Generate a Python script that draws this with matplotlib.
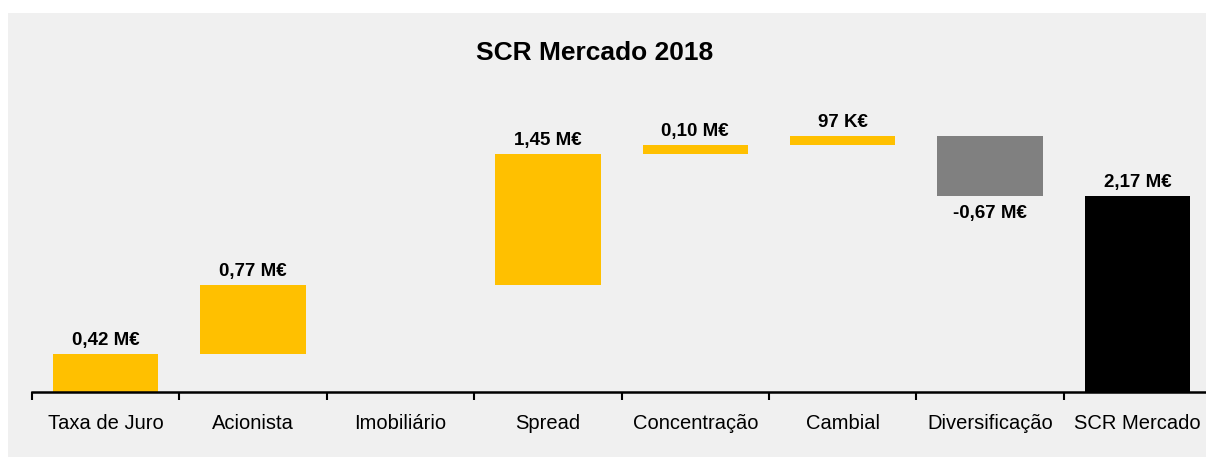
import numpy as np
from matplotlib import pyplot as plt
from matplotlib.patches import Rectangle

categories = ['Taxa de Juro', 'Acionista', 'Imobiliário', 'Spread',
              'Concentração', 'Cambial', 'Diversificação', 'SCR Mercado']
values = [0.42, 0.77, 0.0, 1.45, 0.10, 0.097, -0.67, 2.167]
labels = ['0,42 M€', '0,77 M€', '', '1,45 M€', '0,10 M€', '97 K€', '-0,67 M€', '2,17 M€']

yellow = '#FFC000'
grey = '#808080'
bg = '#F0F0F0'
fonts = ['Liberation Sans Narrow', 'Liberation Sans', 'DejaVu Sans']

fig = plt.figure(figsize=(12.06, 4.57), dpi=100)
fig.patch.set_facecolor('white')
W, H = 1206, 457
# grey panel behind chart
fig.patches.append(Rectangle((8 / W, 0), 1, 1 - 13 / H, transform=fig.transFigure,
                             facecolor=bg, edgecolor='none', zorder=-10))

left = 32 / W
width = 8 * 147.4 / W
bottom = 1 - 392 / H
ax = fig.add_axes([left, bottom, width, 0.6])
ax.set_facecolor('none')
ax.set_zorder(5)

# waterfall bottoms
bottoms = []
running = 0.0
for i, v in enumerate(values):
    if i == len(values) - 1:
        bottoms.append(0.0)
    elif v >= 0:
        bottoms.append(running)
        running += v
    else:
        running += v
        bottoms.append(running)

colors = []
for i, v in enumerate(values):
    if i == len(values) - 1:
        colors.append('black')
    elif v < 0:
        colors.append(grey)
    else:
        colors.append(yellow)

x = np.arange(len(categories)) + 0.5
heights = [abs(v) for v in values]
ax.bar(x, heights, bottom=bottoms, width=0.715, color=colors, edgecolor='none')

for xi, b, h, v, t in zip(x, bottoms, heights, values, labels):
    if not t:
        continue
    if v < 0:
        ax.annotate(t, (xi, b), xytext=(0, -6.5), textcoords='offset points',
                    ha='center', va='top', family=fonts, fontsize=13.5, fontweight='bold')
    else:
        ax.annotate(t, (xi, b + h), xytext=(0, 3.5), textcoords='offset points',
                    ha='center', va='bottom', family=fonts, fontsize=13.5, fontweight='bold')

px_per_unit = 90.3
ax.set_ylim(0, 0.6 * H / px_per_unit)
ax.set_xlim(0, len(categories))

for s in ['top', 'right', 'left']:
    ax.spines[s].set_visible(False)
ax.spines['bottom'].set_linewidth(1.8)
ax.set_yticks([])
ax.set_xticks(np.arange(len(categories) + 1))
ax.set_xticklabels([])
ax.tick_params(axis='x', which='major', length=6, width=1.5, direction='out')
ax.set_xticks(x, minor=True)
ax.set_xticklabels(categories, minor=True, family=fonts, fontsize=14.5)
ax.tick_params(axis='x', which='minor', length=0, pad=16)

fig.text(595 / W, 1 - 53 / H, 'SCR Mercado 2018', ha='center', va='center',
         family=fonts, fontsize=19, fontweight='bold')

fig.savefig('out.png', dpi=100, facecolor=fig.get_facecolor())
